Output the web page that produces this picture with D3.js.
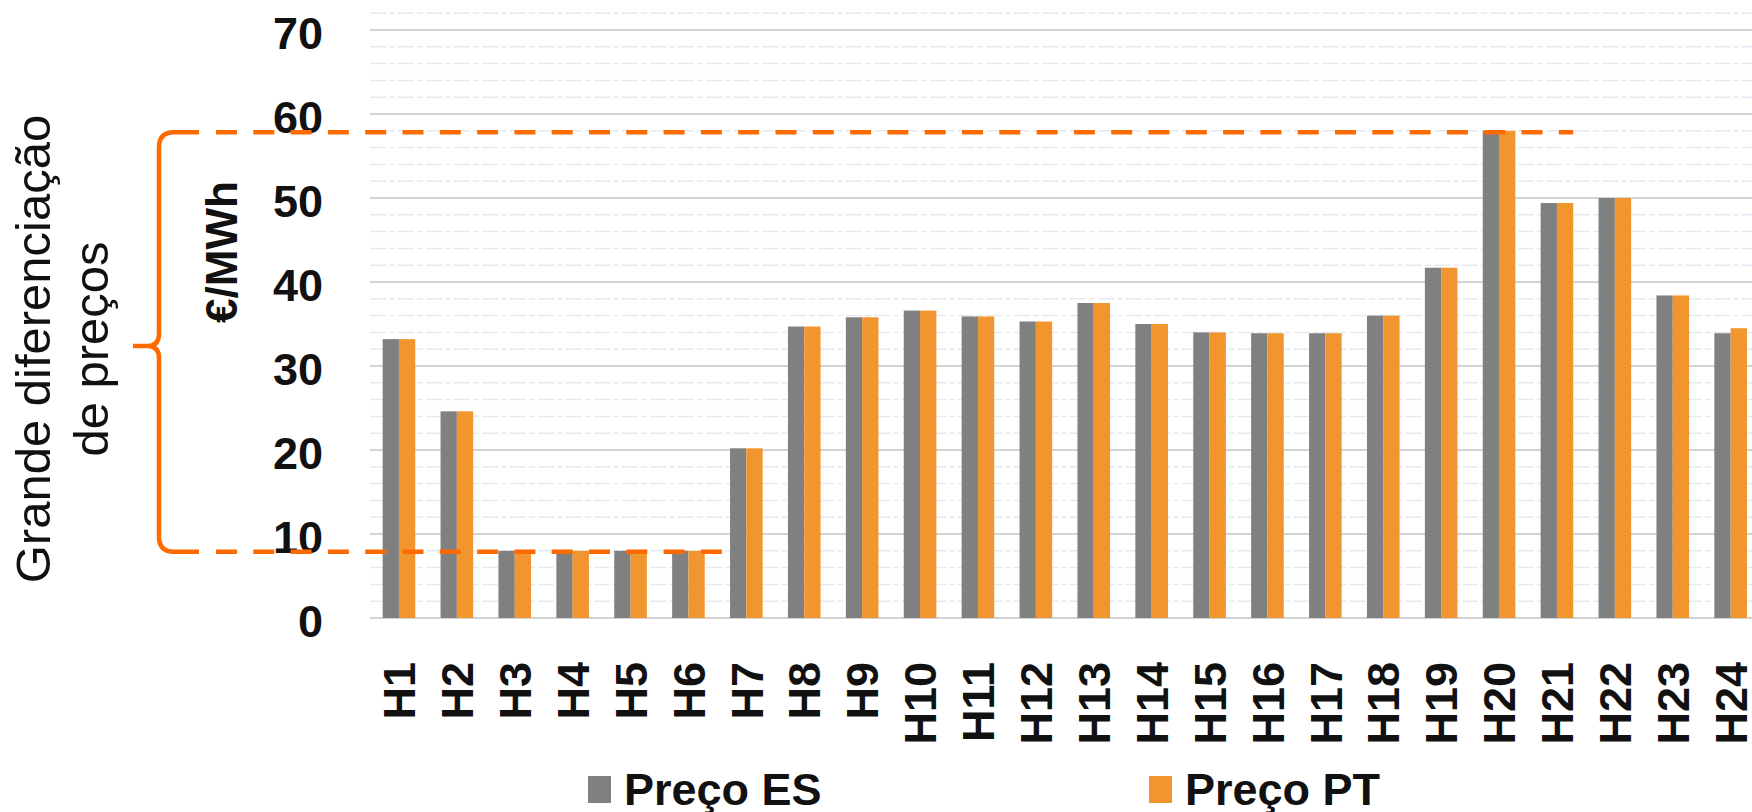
<!DOCTYPE html>
<html>
<head>
<meta charset="utf-8">
<script src="https://cdn.jsdelivr.net/npm/d3@7"></script>
<style>
  body { margin: 0; background: #ffffff; }
  svg { display: block; }
  text { font-family: "Liberation Sans", Arial, Helvetica, sans-serif; }
</style>
</head>
<body>
<svg id="chart" width="1752" height="812"></svg>
<script>
// Hourly day-ahead prices (€/MWh), Spain vs Portugal
const hours = ["H1","H2","H3","H4","H5","H6","H7","H8","H9","H10","H11","H12",
               "H13","H14","H15","H16","H17","H18","H19","H20","H21","H22","H23","H24"];
const precoES = [33.2, 24.6, 8.0, 8.0, 8.0, 8.0, 20.2, 34.7, 35.8, 36.6, 35.9, 35.3,
                 37.5, 35.0, 34.0, 33.9, 33.9, 36.0, 41.7, 58.0, 49.4, 50.0, 38.4, 33.9];
const precoPT = [33.2, 24.6, 8.0, 8.0, 8.0, 8.0, 20.2, 34.7, 35.8, 36.6, 35.9, 35.3,
                 37.5, 35.0, 34.0, 33.9, 33.9, 36.0, 41.7, 58.0, 49.4, 50.0, 38.4, 34.5];
const majorTicks = [0, 10, 20, 30, 40, 50, 60, 70];
const seriesNames = ["Preço ES", "Preço PT"];
const seriesKeys = ["ES", "PT"];
const unitLabel = "€/MWh";
const noteLines = ["Grande diferenciação", "de preços"];

const colors = { ES: "#808080", PT: "#F1962F" };
const accent = "#FF6A00";

const svg = d3.select("#chart");

const x = d3.scaleBand().domain(hours).range([370, 1759.6]).paddingInner(0).paddingOuter(0);
const xs = d3.scaleBand().domain(seriesKeys).range([0, x.bandwidth()]).paddingInner(0).paddingOuter(0.776);
const y = d3.scaleLinear().domain([0, 72]).range([618, 13.2]);

const plotLeft = 370, plotRight = 1752;

// Minor grid every 2 units
const minorTicks = d3.range(2, 73, 2).filter(v => v % 10 !== 0);
svg.append("g").selectAll("line").data(minorTicks).join("line")
  .attr("x1", plotLeft).attr("x2", plotRight)
  .attr("y1", d => y(d)).attr("y2", d => y(d))
  .attr("stroke", "#e4e9f4").attr("stroke-width", 1.5)
  .attr("stroke-dasharray", "16 3 6 3");

// Major grid
svg.append("g").selectAll("line").data(majorTicks).join("line")
  .attr("x1", plotLeft).attr("x2", plotRight)
  .attr("y1", d => y(d)).attr("y2", d => y(d))
  .attr("stroke", "#d3d3d3").attr("stroke-width", 2);

// Bars
const rows = hours.map((h, i) => ({ h, ES: precoES[i], PT: precoPT[i] }));
const groups = svg.append("g").selectAll("g").data(rows).join("g")
  .attr("transform", d => `translate(${x(d.h)},0)`);
groups.selectAll("rect").data(d => seriesKeys.map(k => ({ k, v: d[k] }))).join("rect")
  .attr("x", d => xs(d.k))
  .attr("width", xs.bandwidth())
  .attr("y", d => y(d.v))
  .attr("height", d => y(0) - y(d.v))
  .attr("fill", d => colors[d.k]);

// Y axis
const yAxis = svg.append("g").attr("transform", `translate(${plotLeft},0)`)
  .call(d3.axisLeft(y).tickValues(majorTicks).tickSize(0).tickPadding(47));
yAxis.select(".domain").remove();
yAxis.selectAll("text")
  .attr("dy", "0.40em")
  .style("font-size", "45px").style("font-weight", "bold").attr("fill", "#111");

// X axis (rotated hour labels)
const xAxis = svg.append("g").attr("transform", `translate(0,${y(0)})`)
  .call(d3.axisBottom(x).tickSize(0));
xAxis.select(".domain").remove();
xAxis.selectAll("text")
  .attr("transform", "rotate(-90)")
  .attr("x", -44).attr("y", 0).attr("dy", "0.36em")
  .attr("text-anchor", "end")
  .style("font-size", "45px").style("font-weight", "bold").attr("fill", "#111");

// Unit label
svg.append("text")
  .attr("transform", "translate(237,252) rotate(-90)")
  .attr("text-anchor", "middle")
  .style("font-size", "44px").style("font-weight", "bold").attr("fill", "#111")
  .text(unitLabel);

// Legend
const legendPos = [{ sx: 588, tx: 624 }, { sx: 1149, tx: 1185 }];
const legend = svg.append("g").selectAll("g").data(seriesKeys).join("g");
legend.append("rect")
  .attr("x", (d, i) => legendPos[i].sx).attr("y", 776)
  .attr("width", 23).attr("height", 27)
  .attr("fill", d => colors[d]);
legend.append("text")
  .attr("x", (d, i) => legendPos[i].tx).attr("y", 805)
  .style("font-size", "45px").style("font-weight", "bold").attr("fill", "#111")
  .text((d, i) => seriesNames[i]);

// Spread annotation: brace plus dashed guides at the max and min prices
const allPrices = precoES.concat(precoPT);
const maxV = d3.max(allPrices), minV = d3.min(allPrices);
const iMax = precoES.indexOf(d3.max(precoES));
const iMinLast = 5; // last hour of the low-price block
const yTop = y(maxV) + 1.5, yBot = y(minV) + 1;
const braceX = 159, tipX = 133, tipY = (yTop + yBot) / 2 + 4;

const bracePath = d3.path();
bracePath.moveTo(199, yTop);
bracePath.lineTo(174, yTop);
bracePath.quadraticCurveTo(braceX, yTop, braceX, yTop + 15);
bracePath.lineTo(braceX, tipY - 12);
bracePath.quadraticCurveTo(braceX, tipY, braceX - 12, tipY);
bracePath.lineTo(tipX, tipY);
bracePath.moveTo(braceX - 12, tipY);
bracePath.quadraticCurveTo(braceX, tipY, braceX, tipY + 12);
bracePath.lineTo(braceX, yBot - 15);
bracePath.quadraticCurveTo(braceX, yBot, 174, yBot);
bracePath.lineTo(199, yBot);

svg.append("path").attr("d", bracePath.toString())
  .attr("fill", "none").attr("stroke", accent).attr("stroke-width", 4.5)
  .attr("stroke-linecap", "butt").attr("stroke-linejoin", "round");

const topEnd = x(hours[iMax + 1]) + xs("PT") + xs.bandwidth();
const botEnd = x(hours[iMinLast]) + x.bandwidth() + 5;
svg.append("g").selectAll("line")
  .data([{ y: yTop, x2: topEnd }, { y: yBot, x2: botEnd }]).join("line")
  .attr("x1", 216).attr("x2", d => d.x2)
  .attr("y1", d => d.y).attr("y2", d => d.y)
  .attr("stroke", accent).attr("stroke-width", 4.5)
  .attr("stroke-dasharray", "21 16.3");

// Side note
const note = svg.append("text")
  .attr("transform", "translate(0,349) rotate(-90)")
  .attr("text-anchor", "middle")
  .style("font-size", "49px").attr("fill", "#111");
note.selectAll("tspan").data(noteLines).join("tspan")
  .attr("x", 0).attr("y", (d, i) => 50 + i * 58)
  .text(d => d);
</script>
</body>
</html>
